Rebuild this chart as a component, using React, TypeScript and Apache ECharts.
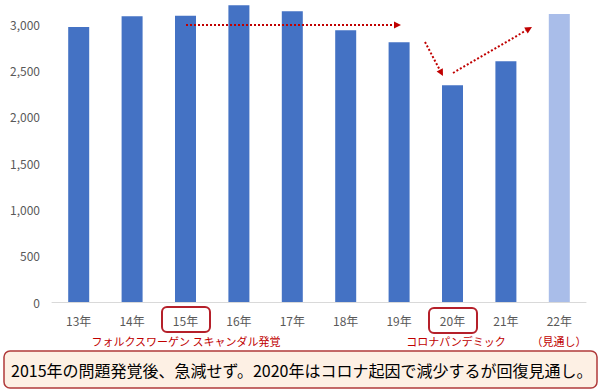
import React, { useEffect, useRef } from "react";
import * as echarts from "echarts";

const categories = ["13年", "14年", "15年", "16年", "17年", "18年", "19年", "20年", "21年", "22年"];
const values = [2970, 3085, 3090, 3205, 3140, 2935, 2805, 2340, 2600, 3110];
const forecastIndex = 9;
const yTicks = [0, 500, 1000, 1500, 2000, 2500, 3000];
const noteVW = "フォルクスワーゲン スキャンダル発覚";
const noteCorona = "コロナパンデミック";
const noteForecast = "（見通し）";
const summary = "2015年の問題発覚後、急減せず。2020年はコロナ起因で減少するが回復見通し。";

const FONT = '"Noto Sans CJK JP", "Noto Sans", sans-serif';
const RED = "#c00000";

function arrow(x1: number, y1: number, x2: number, y2: number) {
  const ang = Math.atan2(y2 - y1, x2 - x1);
  const L = 7, W = 3.5;
  const bx = x2 - L * Math.cos(ang), by = y2 - L * Math.sin(ang);
  const px = -Math.sin(ang) * W, py = Math.cos(ang) * W;
  return [
    {
      type: "line",
      shape: { x1, y1, x2: bx, y2: by },
      style: { stroke: RED, lineWidth: 2, lineDash: [2, 2] },
      z: 100,
    },
    {
      type: "polygon",
      shape: { points: [[x2, y2], [bx + px, by + py], [bx - px, by - py]] },
      style: { fill: RED },
      z: 100,
    },
  ];
}

export default function App() {
  const ref = useRef<HTMLDivElement>(null);
  useEffect(() => {
    document.body.style.margin = "0";
    const chart = echarts.init(ref.current!, null, { renderer: "svg" });
    chart.setOption({
      animation: false,
      backgroundColor: "#ffffff",
      textStyle: { fontFamily: FONT },
      grid: { left: 52, right: 14, top: 1, bottom: 90, containLabel: false },
      xAxis: {
        type: "category",
        data: categories,
        axisLine: { lineStyle: { color: "#d9d9d9", width: 1 } },
        axisTick: { show: false },
        axisLabel: { color: "#595959", fontSize: 12, margin: 12, fontFamily: FONT },
      },
      yAxis: {
        type: "value",
        min: 0,
        max: 3250,
        interval: 500,
        splitLine: { show: false },
        axisLine: { show: false },
        axisTick: { show: false },
        axisLabel: {
          color: "#595959",
          fontSize: 12,
          margin: 12,
          fontFamily: FONT,
          showMaxLabel: false,
          formatter: (v: number) => (yTicks.includes(v) ? v.toLocaleString("en-US") : ""),
        },
      },
      series: [
        {
          type: "bar",
          barWidth: 21,
          clip: false,
          data: values.map((v, i) => ({
            value: v,
            itemStyle: { color: i === forecastIndex ? "#a9bde9" : "#4472c4" },
          })),
        },
      ],
      graphic: [
        ...arrow(186, 25, 401, 25),
        ...arrow(425, 42, 443, 76),
        ...arrow(453, 73, 532, 27),
        {
          type: "rect",
          shape: { x: 162, y: 307, width: 48, height: 25, r: 5 },
          style: { fill: "none", stroke: "#b5202a", lineWidth: 2 },
        },
        {
          type: "rect",
          shape: { x: 429, y: 308, width: 48, height: 25, r: 5 },
          style: { fill: "none", stroke: "#b5202a", lineWidth: 2 },
        },
        {
          type: "text",
          x: 186,
          y: 341,
          style: { text: noteVW, fill: RED, fontSize: 11, fontFamily: FONT, align: "center", verticalAlign: "middle" },
        },
        {
          type: "text",
          x: 456,
          y: 341,
          style: { text: noteCorona, fill: RED, fontSize: 11, fontFamily: FONT, align: "center", verticalAlign: "middle" },
        },
        {
          type: "text",
          x: 559,
          y: 341,
          style: { text: noteForecast, fill: RED, fontSize: 11, fontFamily: FONT, align: "center", verticalAlign: "middle" },
        },
        {
          type: "rect",
          shape: { x: 4, y: 351, width: 593, height: 37, r: 6 },
          style: { fill: "#fdf0e4", stroke: "#b03a3a", lineWidth: 1.5 },
        },
        {
          type: "text",
          x: 11,
          y: 369.5,
          style: { text: summary, fill: "#000000", fontSize: 16, fontFamily: FONT, verticalAlign: "middle" },
        },
      ],
    });
    return () => chart.dispose();
  }, []);
  return <div ref={ref} style={{ width: 600, height: 392, position: "fixed", left: 0, top: 0 }} />;
}
